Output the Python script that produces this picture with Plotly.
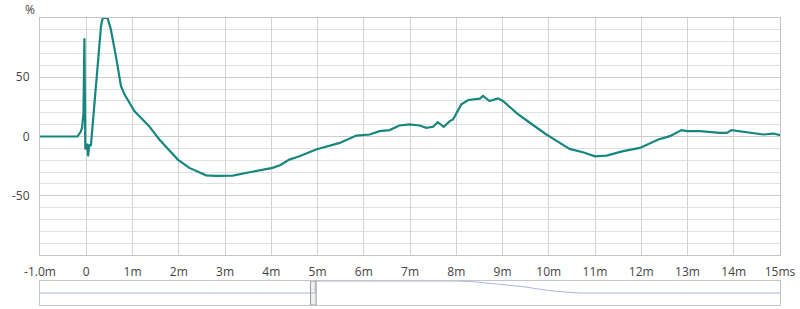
import plotly.graph_objects as go

# Main series: time (ms) vs percent
time_ms = [-1.0, -0.19, -0.12, -0.09, -0.06, -0.04, -0.02, 0.02, 0.04, 0.065, 0.1, 0.13, 0.17,
           0.245, 0.32, 0.35, 0.37, 0.46, 0.53, 0.64, 0.75, 0.82, 0.89, 0.95, 1.04, 1.15, 1.36,
           1.58, 1.8, 1.98, 2.23, 2.59, 2.8, 3.17, 3.53, 4.03, 4.2, 4.39, 4.61, 4.97, 5.48, 5.84,
           6.13, 6.34, 6.56, 6.77, 6.99, 7.21, 7.35, 7.5, 7.6, 7.73, 7.86, 7.93, 8.11, 8.26, 8.51,
           8.58, 8.72, 8.9, 9.01, 9.3, 9.59, 9.95, 10.24, 10.45, 10.74, 11.0, 11.25, 11.61, 11.97,
           12.37, 12.62, 12.87, 13.0, 13.27, 13.7, 13.85, 13.95, 14.28, 14.64, 14.86, 15.0]
percent = [0, 0, 4, 7.6, 20, 82.8, -11, -6, -16.7, -6.8, -8, 5, 23,
           59.6, 93.5, 99, 100, 100, 90.7, 68, 42.6, 36, 31.4, 27, 21.5, 17, 8.7,
           -2.5, -12, -19.5, -26.5, -32.8, -33.2, -33, -30.2, -26.5, -24, -19.5, -16.7, -11, -5.4, 0.8,
           1.7, 4.5, 5.4, 9.3, 10.2, 9.3, 7.3, 8.2, 12.1, 8.2, 13, 14.4, 27.1, 30.8, 31.9,
           34.2, 29.9, 32.2, 30, 20, 11.6, 1.7, -5.4, -10.5, -13.3, -16.7, -16.1, -12.4, -9.6,
           -2.5, 0.3, 5.4, 4.5, 4.5, 3.1, 3.1, 5.4, 3.7, 1.7, 2.5, 1.1]

# Overview strip series
overview_t = [-1.0, 4.95, 4.95, 8.0, 8.4, 8.72, 9.1, 9.44, 9.75, 10.02, 10.35, 10.67, 15.0]
overview_v = [0, 0, 1, 1, 0.93, 0.82, 0.68, 0.53, 0.35, 0.2, 0.08, 0, 0]
window_start, window_end = 4.85, 4.97

x_tickvals = list(range(-1, 16))
x_ticktext = ["-1.0m", "0"] + [f"{i}m" for i in range(1, 15)] + ["15ms"]
y_tickvals = [-50, 0, 50]
y_ticktext = ["-50", "0", "50"]

LINE = "#16877f"
GRID = "#d2d2d2"
FONT = dict(family="Open Sans, Noto Sans, sans-serif", size=12, color="#444444")

fig = go.Figure()
fig.add_trace(go.Scatter(x=time_ms, y=percent, mode="lines",
                         line=dict(color=LINE, width=2.2), xaxis="x", yaxis="y",
                         showlegend=False, hoverinfo="skip"))
fig.add_trace(go.Scatter(x=overview_t, y=overview_v, mode="lines",
                         line=dict(color="#a9b4e6", width=1),
                         xaxis="x2", yaxis="y2", showlegend=False, hoverinfo="skip"))

H = 309
mt, mb = 18, 4
ph = H - mt - mb
main_bottom = (H - mb - 255) / ph
slider_top = (H - mb - 281) / ph

fig.update_layout(
    width=800, height=309,
    margin=dict(l=40, r=20, t=mt, b=mb),
    paper_bgcolor="white", plot_bgcolor="white",
    font=FONT,
    xaxis=dict(range=[-1, 15], tickvals=x_tickvals, ticktext=x_ticktext,
               showgrid=True, gridcolor=GRID, gridwidth=1, zeroline=False,
               showline=True, linecolor="#c4c4c4", mirror=True, ticks="",
               ticklabelstandoff=6, domain=[0, 1], anchor="y"),
    yaxis=dict(range=[-100, 100], tickvals=y_tickvals, ticktext=y_ticktext,
               showgrid=True, gridcolor="#cccccc", zeroline=False,
               minor=dict(dtick=10, tick0=0, showgrid=True, gridcolor="#e0e0e0"),
               showline=True, linecolor="#c4c4c4", mirror=True, ticks="",
               ticklabelstandoff=7, domain=[main_bottom, 1], anchor="x"),
    xaxis2=dict(range=[-1, 15], showgrid=False, zeroline=False, showticklabels=False,
                showline=True, linecolor="#c4c4c4", mirror=True, ticks="",
                domain=[0, 1], anchor="y2"),
    yaxis2=dict(range=[-1, 1], showgrid=False, zeroline=False, showticklabels=False,
                showline=True, linecolor="#c4c4c4", mirror=True, ticks="",
                domain=[0, slider_top], anchor="x2"),
    annotations=[dict(text="%", x=-0.004, y=1, xref="paper", yref="paper",
                      xanchor="right", yanchor="middle", yshift=9, showarrow=False,
                      font=dict(size=12, color="#444444"))],
    shapes=[dict(type="rect", xref="x2", yref="y2", x0=window_start, x1=window_end,
                 y0=-1, y1=1, line=dict(color="#9a9a9a", width=1),
                 fillcolor="rgba(200,200,200,0.25)")],
)

fig.write_html("out.html")
